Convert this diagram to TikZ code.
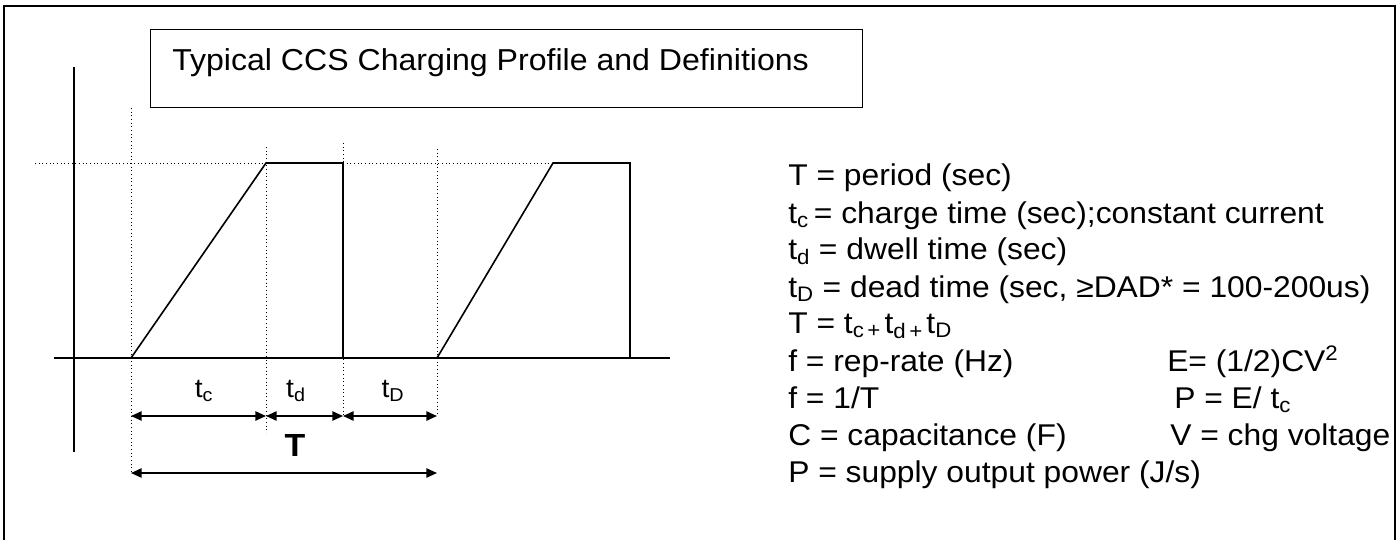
\documentclass[tikz,border=0pt]{standalone}
\usepackage{fontspec}
\setmainfont{Liberation Sans}[FakeStretch=1.06]
\usetikzlibrary{arrows.meta,positioning}
\tikzset{every node/.style={inner sep=0pt}}

\begin{document}
\begin{tikzpicture}[
x=0.75pt, y=-0.75pt,
frame/.style={line width=1.5pt},
axis/.style={line width=1.5pt},
wave/.style={line width=1.2pt, line join=miter},
guide/.style={dotted, line width=0.75pt},
dimline/.style={
{Triangle[length=8pt,width=7pt]}-{Triangle[length=8pt,width=7pt]},
line width=1.2pt
},
deftext/.style={anchor=base west, font=\fontsize{22.5}{27}\selectfont},
seglabel/.style={anchor=base, font=\fontsize{20}{24}\selectfont}
]
\useasboundingbox (0,0) rectangle (1398,540);

% outer frame
\draw[frame] (4,540) -- (4,6) -- (1395,6) -- (1395,540);

% title
\node[draw, line width=1.1pt, anchor=north west,
minimum width=534pt, minimum height=58.5pt] (titlebox) at (150,29) {};
\node[anchor=base west, font=\fontsize{22.7}{28}\selectfont] (title) at (172,70)
{Typical CCS Charging Profile and Definitions};

% profile points
\coordinate (yaxtop) at (74,67);
\coordinate (yaxbot) at (74,452);
\coordinate (xaxl) at (54,358);
\coordinate (xaxr) at (670,358);
\coordinate (lvl) at (35,163);
\coordinate (lvlend) at (630,163);

\coordinate (c0) at (131,358);
\coordinate (c1) at (266,163);
\coordinate (c2) at (343,163);
\coordinate (c3) at (343,358);
\coordinate (n0) at (437,358);
\coordinate (n1) at (553,163);
\coordinate (n2) at (630,163);
\coordinate (n3) at (630,358);

% dotted guides
\draw[guide] (lvl) -- (lvlend);
\draw[guide] (131,108) -- (131,473);
\draw[guide] (266,147) -- (266,433);
\draw[guide] (343,143) -- (343,416);
\draw[guide] (437,149) -- (437,416);

% axes and waveform
\draw[axis] (yaxtop) -- (yaxbot);
\draw[axis] (xaxl) -- (xaxr);
\draw[wave] (c0) -- (c1) -- (c2) -- (c3);
\draw[wave] (n0) -- (n1) -- (n2) -- (n3);

% segment labels
\node[seglabel] (lbltc) at (204,397) {t\textsubscript{c}};
\node[seglabel] (lbltd) at (296,397) {t\textsubscript{d}};
\node[seglabel] (lbltD) at (393,397) {t\textsubscript{D}};
\node[anchor=base, font=\fontsize{24}{28}\selectfont\bfseries] (lblT) at (295,456) {T};

\coordinate (a0) at (131,416);
\coordinate (a1) at (266,416);
\coordinate (a2) at (343,416);
\coordinate (a3) at (437,416);
\coordinate (b0) at (131,473);
\coordinate (b1) at (437,473);

\draw[dimline] (a0) -- (a1);
\draw[dimline] (a1) -- (a2);
\draw[dimline] (a2) -- (a3);
\draw[dimline] (b0) -- (b1);

% definitions
\node[deftext] (defT) at (788,185) {T = period (sec)};
\node[deftext] (deftc) at (788,223) {t\textsubscript{c}\,= charge time (sec);constant current};
\node[deftext] (deftd) at (788,259) {t\textsubscript{d} = dwell time (sec)};
\node[deftext] (deftD) at (788,297) {t\textsubscript{D} = dead time (sec, ≥DAD* = 100-200us)};
\node[deftext] (defsum) at (788,333) {T = t\textsubscript{c\,+\,}t\textsubscript{d\,+\,}t\textsubscript{D}};
\node[deftext] (deff) at (788,371) {f = rep-rate (Hz)};
\node[deftext] (deffT) at (788,408) {f = 1/T};
\node[deftext] (defC) at (788,445) {C = capacitance (F)};
\node[deftext] (defP) at (788,482) {P = supply output power (J/s)};

\node[deftext] (defE) at (1167,371) {E= (1/2)CV\textsuperscript{2}};
\node[deftext] (defPE) at (1174,408) {P = E/ t\textsubscript{c}};
\node[deftext] (defV) at (1170,445) {V = chg voltage};
\end{tikzpicture}
\end{document}
